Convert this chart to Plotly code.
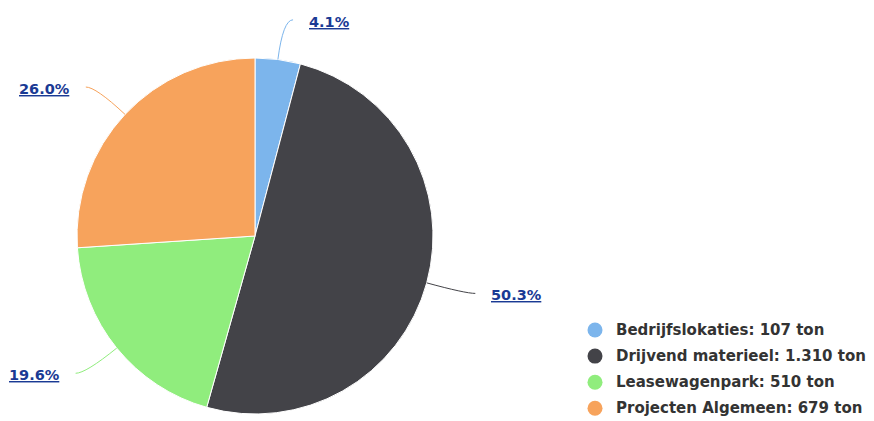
import math
import plotly.graph_objects as go

categories = ["Bedrijfslokaties", "Drijvend materieel", "Leasewagenpark", "Projecten Algemeen"]
values = [107, 1310, 510, 679]
pct_labels = ["4.1%", "50.3%", "19.6%", "26.0%"]
colors = ["#7cb5ec", "#434348", "#90ed7d", "#f7a35c"]

W, H = 874, 421
cx, cy, r = 255, 236, 178

fig = go.Figure()
fig.add_trace(go.Pie(
    labels=categories, values=values, sort=False, direction="clockwise", rotation=0,
    marker=dict(colors=colors, line=dict(color="white", width=1)),
    textinfo="none", hoverinfo="label+value+percent", showlegend=False,
    domain=dict(x=[(cx - r) / W, (cx + r) / W], y=[(H - cy - r) / H, (H - cy + r) / H]),
))

shapes = []
annotations = []
total = sum(values)
cum = 0.0
for i, v in enumerate(values):
    frac = v / total
    mid = (cum + frac / 2) * 2 * math.pi
    cum += frac
    s, c = math.sin(mid), math.cos(mid)
    sign = 1 if s >= 0 else -1
    ex, ey = cx + r * s, cy - r * c
    R = r + 40
    ax, ay = cx + R * s, cy - R * c
    endx, endy = ax + sign * 10, ay
    shapes.append(dict(type="path", xref="x", yref="y",
                       path=f"M {ex},{ey} Q {ax},{ay} {endx},{endy}",
                       line=dict(color=colors[i], width=1)))
    annotations.append(dict(x=endx + sign * 14, y=endy + 2, xref="x", yref="y",
                            text=pct_labels[i], showarrow=False,
                            xanchor="left" if sign > 0 else "right", yanchor="middle",
                            font=dict(family="DejaVu Sans", size=14.5, color="#1a3a94",
                                      weight="bold", lineposition="under")))

# legend
for i, (name, v) in enumerate(zip(categories, values)):
    y = 330 + 26.1 * i
    shapes.append(dict(type="circle", xref="x", yref="y",
                       x0=595 - 7.5, x1=595 + 7.5, y0=y - 7.5, y1=y + 7.5,
                       fillcolor=colors[i], line=dict(width=0)))
    txt = f"{name}: {v:,} ton".replace(",", ".")
    annotations.append(dict(x=614, y=y, xref="x", yref="y", text=txt, showarrow=False,
                            xanchor="left", yanchor="middle",
                            font=dict(family="DejaVu Sans", size=15, color="#333333",
                                      weight="bold")))

fig.update_layout(
    width=W, height=H, margin=dict(l=0, r=0, t=0, b=0),
    paper_bgcolor="white", plot_bgcolor="rgba(0,0,0,0)",
    xaxis=dict(range=[0, W], visible=False, fixedrange=True),
    yaxis=dict(range=[H, 0], visible=False, fixedrange=True),
    shapes=shapes, annotations=annotations,
)

fig.write_html("out.html", config={"displayModeBar": False},
               post_script="document.body.style.margin='0';document.body.style.overflow='hidden';")
